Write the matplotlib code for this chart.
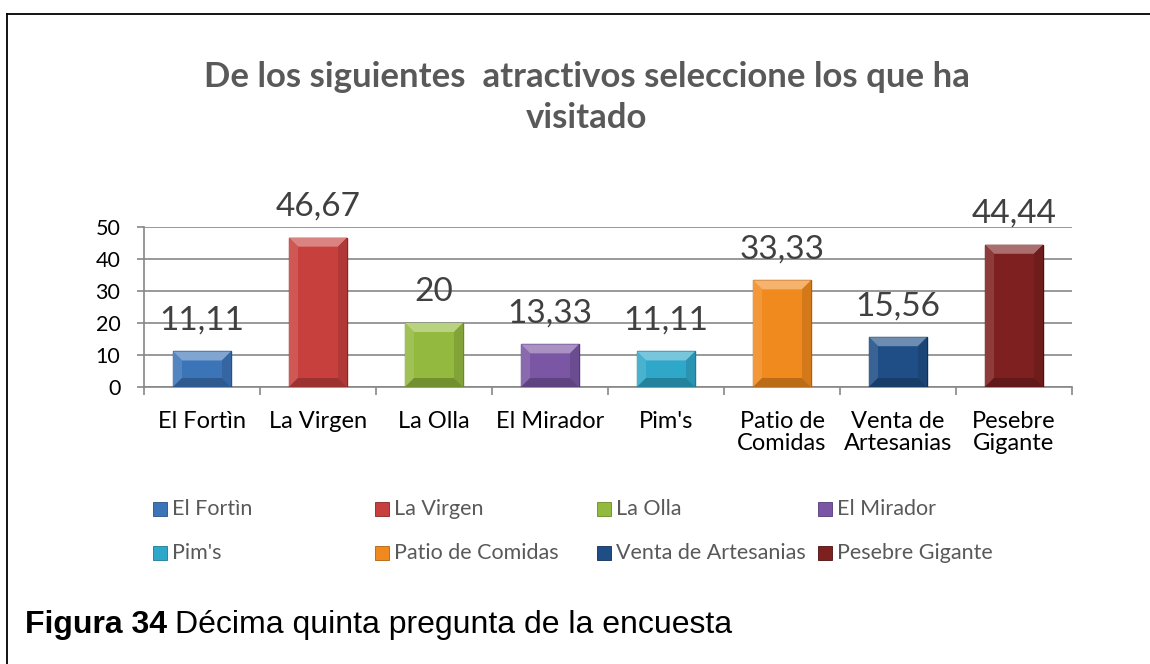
import matplotlib
matplotlib.use("Agg")
import matplotlib.pyplot as plt
from matplotlib.patches import Rectangle, Polygon
from matplotlib.lines import Line2D
from matplotlib.colors import to_rgb

categories = ["El Fortìn", "La Virgen", "La Olla", "El Mirador", "Pim's",
              "Patio de Comidas", "Venta de Artesanias", "Pesebre Gigante"]
tick_labels = ["El Fortìn", "La Virgen", "La Olla", "El Mirador", "Pim's",
               "Patio de\nComidas", "Venta de\nArtesanias", "Pesebre\nGigante"]
values = [11.11, 46.67, 20, 13.33, 11.11, 33.33, 15.56, 44.44]
value_labels = ["11,11", "46,67", "20", "13,33", "11,11", "33,33", "15,56", "44,44"]
colors = ["#3C74B8", "#C8403D", "#93B93E", "#7A56A4", "#2FA7C9", "#F08A1E", "#1F4E87", "#7E2020"]
edge_colors = ["#25508A", "#8A2523", "#6A8A25", "#55387A", "#1B7A96", "#B0600E", "#102F57", "#4E0F0F"]

W, H = 1150, 664
fig = plt.figure(figsize=(W / 100, H / 100), dpi=100)
fig.patch.set_facecolor("white")

def fx(x): return x / W
def fy(y): return 1 - y / H

def mix(c, t, amt):
    a = to_rgb(c); b = to_rgb(t)
    return tuple(a[i] * (1 - amt) + b[i] * amt for i in range(3))

# frame lines
fig.add_artist(Line2D([fx(7), 1.0], [fy(14), fy(14)], color="black", lw=1.3))
fig.add_artist(Line2D([fx(7), fx(7)], [fy(14), 0.0], color="black", lw=1.3))

ax = fig.add_axes([fx(144), fy(387), fx(1072) - fx(144), fy(227) - fy(387)])
x = list(range(len(categories)))
bw = 0.5
ax.bar(x, values, width=bw, color=colors, edgecolor=edge_colors, linewidth=1.0, zorder=3)
ax.set_xlim(-0.5, len(categories) - 0.5)
ax.set_ylim(0, 50)
ax.set_yticks([0, 10, 20, 30, 40, 50])
ax.yaxis.grid(True, color="#878787", lw=1.2, zorder=0)
ax.set_axisbelow(True)
for s in ["top", "right"]:
    ax.spines[s].set_visible(False)
for s in ["left", "bottom"]:
    ax.spines[s].set_color("#878787")
    ax.spines[s].set_linewidth(1.2)
ax.set_xticks([i - 0.5 for i in range(len(categories) + 1)], minor=False)
ax.set_xticklabels([])
ax.set_xticks(x, minor=True)
ax.set_xticklabels(tick_labels, minor=True, fontsize=17, family="Lato", color="black", linespacing=1.1)
ax.tick_params(axis="x", which="major", length=6, color="#878787", width=1.2)
ax.tick_params(axis="x", which="minor", length=0, pad=17)
ax.tick_params(axis="y", length=5, color="#878787", width=1.2, labelsize=15.5, pad=12)
for t in ax.get_yticklabels():
    t.set_family("Lato")

# bevel effect (3D look) derived from bar geometry
bx = 9 * (len(categories)) / (1072 - 144)   # ~9px in x data units
by = 9 * 50 / (387 - 227)                    # ~9px in y data units
for xi, v, c in zip(x, values, colors):
    l, r = xi - bw / 2, xi + bw / 2
    d = min(by, v / 2)
    top = Polygon([(l, v), (r, v), (r - bx, v - d), (l + bx, v - d)], closed=True,
                  facecolor=mix(c, "white", 0.35), edgecolor="none", zorder=4)
    left = Polygon([(l, 0), (l, v), (l + bx, v - d), (l + bx, min(d, v))], closed=True,
                   facecolor=mix(c, "white", 0.12), edgecolor="none", zorder=4)
    right = Polygon([(r, 0), (r, v), (r - bx, v - d), (r - bx, min(d, v))], closed=True,
                    facecolor=mix(c, "black", 0.12), edgecolor="none", zorder=4)
    bottom = Polygon([(l, 0), (r, 0), (r - bx, min(d, v)), (l + bx, min(d, v))], closed=True,
                     facecolor=mix(c, "black", 0.22), edgecolor="none", zorder=4)
    for p in (top, left, right, bottom):
        ax.add_patch(p)

for xi, v, lab in zip(x, values, value_labels):
    ax.annotate(lab, (xi, v), xytext=(0, 22), textcoords="offset pixels",
                ha="center", va="baseline", fontsize=24, family="Lato", color="#404040",
                zorder=6)

# title
fig.text(fx(587), fy(87), "De los siguientes  atractivos seleccione los que ha",
         ha="center", va="baseline", fontsize=25, fontweight="bold", family="Lato", color="#595959")
fig.text(fx(587), fy(128), "visitado",
         ha="center", va="baseline", fontsize=25, fontweight="bold", family="Lato", color="#595959")

# legend
col_x = [153, 375, 597, 818]
row_y = [509, 553]
for i, (name, c) in enumerate(zip(categories, colors)):
    r, col = divmod(i, 4)
    mx, my = col_x[col], row_y[r]
    fig.add_artist(Rectangle((fx(mx), fy(my + 7)), fx(14), 14 / H, facecolor=c,
                             edgecolor=edge_colors[i], lw=0.6))
    fig.text(fx(mx + 19), fy(my), name, ha="left", va="center", fontsize=15.5,
             family="Lato", color="#595959")

# caption
cap1 = fig.text(fx(25), fy(633), "Figura 34", ha="left", va="baseline", fontsize=23,
                fontweight="bold", family="Liberation Sans", color="black")
fig.canvas.draw()
bb = cap1.get_window_extent()
fig.text(bb.x1 / W + fx(8), fy(633), "Décima quinta pregunta de la encuesta", ha="left",
         va="baseline", fontsize=23, family="Liberation Sans", color="black")

fig.savefig("out.png", dpi=100)
